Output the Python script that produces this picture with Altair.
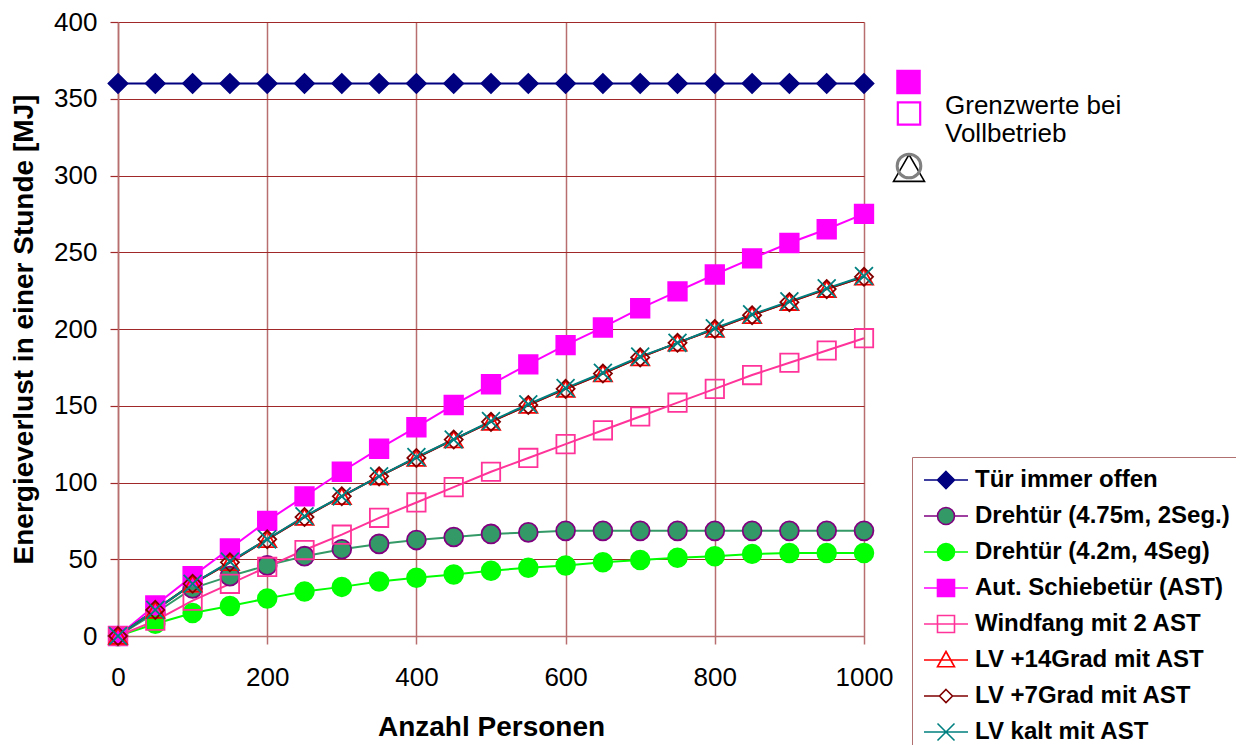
import altair as alt
import pandas as pd

# ---------------- data ----------------
persons = [0, 50, 100, 150, 200, 250, 300, 350, 400, 450, 500,
           550, 600, 650, 700, 750, 800, 850, 900, 950, 1000]

tuer_offen = [360, 360, 360, 360, 360, 360, 360, 360, 360, 360, 360,
              360, 360, 360, 360, 360, 360, 360, 360, 360, 360]
drehtuer_475 = [0, 15, 31, 39, 46, 52, 56.5, 60, 62.5, 64.5, 66.5,
                67.5, 68.5, 68.5, 68.5, 68.5, 68.5, 68.5, 68.5, 68.5, 68.5]
drehtuer_42 = [0, 8, 15, 19.5, 24.5, 29, 32, 35.5, 38, 40, 42.5,
               44.5, 46, 48, 49.5, 51, 52, 53.5, 54, 54, 54]
schiebetuer = [0, 20, 39, 57, 75, 91, 107, 122, 136, 150.5, 164,
               177, 189.5, 201, 213.5, 224.5, 235.5, 246, 256, 265, 275]
windfang = [0, 10, 23, 34, 45, 56, 66, 77, 87, 97, 107,
            116, 125, 134, 143, 152, 161, 170, 178, 186, 194]
lv_14 = [0, 17, 34, 48, 63, 77.5, 91, 104, 116, 128, 139.5,
         150.5, 161, 171, 181.5, 191, 200, 209, 217.5, 226, 234]
lv_7 = [0, 17, 34, 48, 63, 77.5, 91, 104, 116, 128, 139.5,
        150.5, 161, 171, 181.5, 191, 200, 209, 217.5, 226, 234]
lv_kalt = [0, 17, 34, 48.5, 63, 78, 91, 104, 116.5, 128, 140,
           151, 161.5, 171.5, 182, 191, 200.5, 209.5, 218, 226.5, 234.5]

series_names = [
    "Tür immer offen",
    "Drehtür (4.75m, 2Seg.)",
    "Drehtür (4.2m, 4Seg)",
    "Aut. Schiebetür (AST)",
    "Windfang mit 2 AST",
    "LV +14Grad mit AST",
    "LV +7Grad mit AST",
    "LV kalt mit AST",
]
series_values = [tuer_offen, drehtuer_475, drehtuer_42, schiebetuer,
                 windfang, lv_14, lv_7, lv_kalt]

x_ticks = [0, 200, 400, 600, 800, 1000]
y_ticks = [0, 50, 100, 150, 200, 250, 300, 350, 400]

annot_text = ["Grenzwerte bei", "Vollbetrieb"]

# ---------------- styles ----------------
line_colors = ["#000080", "#339966", "#00ff00", "#ff00ff",
               "#ff3399", "#ff0000", "#800000", "#008080"]
point_fill = ["#000080", "#339966", "#00ff00", "#ff00ff",
              "transparent", "transparent", "transparent", "transparent"]
point_stroke = ["#000080", "#800080", "#00ff00", "#ff00ff",
                "#ff3399", "#ff0000", "#800000", "#008080"]
X_PATH = "M-1,-1L1,1M-1,1L1,-1"
point_shapes = ["diamond", "circle", "circle", "square",
                "square", "triangle-up", "diamond", X_PATH]
point_sizes = [361, 320, 360, 310, 330, 420, 190, 380]

# legend symbols: line + marker (scaled by sqrt(400)/2 = 10)
m = 0.85
L = 2.2
def seg_line(half):
    return f"M{-L},0L{-half},0M{half},0L{L},0"
full_line = f"M{-L},0L{L},0"
circle_p = f"M{m},0A{m},{m} 0 1,1 {-m},0A{m},{m} 0 1,1 {m},0Z"
square_p = f"M{-m},{-m}L{m},{-m}L{m},{m}L{-m},{m}Z"
diamond_p = f"M0,{-m}L{m},0L0,{m}L{-m},0Z"
diamond_s = "M0,-0.65L0.65,0L0,0.65L-0.65,0Z"
tri_p = f"M0,{-m}L{m},{m*0.8}L{-m},{m*0.8}Z"
x_p = f"M{-m},{-m}L{m},{m}M{-m},{m}L{m},{-m}"
legend_shapes = [
    seg_line(m) + diamond_p,
    seg_line(m) + circle_p,
    seg_line(m) + circle_p,
    seg_line(m) + square_p,
    full_line + square_p,
    full_line + tri_p,
    seg_line(0.65) + diamond_s,
    full_line + x_p,
]

rows = []
for name, vals in zip(series_names, series_values):
    for p, v in zip(persons, vals):
        rows.append({"Personen": p, "MJ": v, "Serie": name})
df = pd.DataFrame(rows)

FONT = "Liberation Sans"
HGRID = "#a02828"
VGRID = "#b86e6e"

x_axis = alt.Axis(values=x_ticks, format="d", grid=True, gridColor=VGRID, gridWidth=1.5,
                  domainColor=VGRID, domainWidth=1.5, tickColor=VGRID, tickSize=8, tickWidth=1.5,
                  labelFont=FONT, labelFontSize=26, labelColor="black", labelPadding=20,
                  labelFlush=False,
                  title="Anzahl Personen", titleFont=FONT, titleFontSize=28,
                  titleFontWeight="bold", titleColor="black", titleY=99,
                  titleBaseline="alphabetic")
y_axis = alt.Axis(values=y_ticks, format="d", grid=True, gridColor=HGRID, gridWidth=1.2,
                  domainColor=VGRID, domainWidth=1.5, tickColor=HGRID, tickSize=8, tickWidth=1.2,
                  labelFont=FONT, labelFontSize=26, labelColor="black", labelPadding=13,
                  labelFlush=False,
                  title="Energieverlust in einer Stunde [MJ]", titleFont=FONT, titleFontSize=28,
                  titleFontWeight="bold", titleColor="black", titleAngle=270,
                  titleX=-86, titleY=307, titleBaseline="alphabetic", titleAlign="center")

xs = alt.Scale(domain=[0, 1000], nice=False)
ys = alt.Scale(domain=[0, 400], nice=False)

lines = alt.Chart(df).mark_line(strokeWidth=2).encode(
    x=alt.X("Personen:Q", scale=xs, axis=x_axis),
    y=alt.Y("MJ:Q", scale=ys, axis=y_axis),
    color=alt.Color("Serie:N", scale=alt.Scale(domain=series_names, range=line_colors), legend=None),
)

points = alt.Chart(df).mark_point(filled=True, strokeWidth=1.8, opacity=1).encode(
    x=alt.X("Personen:Q", scale=xs),
    y=alt.Y("MJ:Q", scale=ys),
    shape=alt.Shape("Serie:N", scale=alt.Scale(domain=series_names, range=point_shapes), legend=None),
    fill=alt.Fill("Serie:N", scale=alt.Scale(domain=series_names, range=point_fill), legend=None),
    stroke=alt.Stroke("Serie:N", scale=alt.Scale(domain=series_names, range=point_stroke), legend=None),
    size=alt.Size("Serie:N", scale=alt.Scale(domain=series_names, range=point_sizes), legend=None),
)

leg = alt.Legend(orient="none", legendX=794, legendY=435, title=None,
                 labelFont=FONT, labelFontSize=24, labelFontWeight="bold", labelColor="black",
                 labelLimit=400, symbolSize=400, symbolStrokeWidth=1.6, symbolOpacity=1,
                 symbolOffset=11, labelOffset=17, rowPadding=12,
                 strokeColor="#b07070", fillColor="white", padding=11)

legend_layer = alt.Chart(pd.DataFrame({"Serie": series_names})).mark_point(
    filled=True, strokeWidth=1.6, opacity=1).encode(
    shape=alt.Shape("Serie:N", scale=alt.Scale(domain=series_names, range=legend_shapes), legend=leg),
    fill=alt.Fill("Serie:N", scale=alt.Scale(domain=series_names, range=point_fill), legend=leg),
    stroke=alt.Stroke("Serie:N", scale=alt.Scale(domain=series_names, range=point_stroke), legend=leg),
).transform_filter("false")

one = pd.DataFrame({"k": [0]})
ann_sq_filled = alt.Chart(one).mark_point(shape="square", filled=True, size=600, opacity=1,
                                          color="#ff00ff").encode(
    x=alt.value(790.5), y=alt.value(60))
ann_sq_open = alt.Chart(one).mark_point(shape="square", filled=False, size=500, opacity=1,
                                        stroke="#ff00ff", strokeWidth=2.2).encode(
    x=alt.value(791), y=alt.value(91.5))
ann_text = alt.Chart(one).mark_text(align="left", baseline="alphabetic", font=FONT,
                                    fontSize=26, color="black", lineHeight=28).encode(
    x=alt.value(827), y=alt.value(91.5), text=alt.value(annot_text))
ann_tri = alt.Chart(one).mark_point(shape="triangle-up", filled=False, size=960, opacity=1,
                                    stroke="black", strokeWidth=1.6).encode(
    x=alt.value(791), y=alt.value(146))
ann_circ = alt.Chart(one).mark_point(shape="circle", filled=False, size=560, opacity=1,
                                     stroke="#808080", strokeWidth=3).encode(
    x=alt.value(791), y=alt.value(144))

chart = alt.layer(
    lines, points, legend_layer, ann_sq_filled, ann_sq_open, ann_text, ann_tri, ann_circ
).resolve_scale(
    shape="independent", fill="independent", stroke="independent"
).properties(
    width=746, height=614,
    padding={"left": 110, "top": 14, "right": 372, "bottom": 112},
    autosize=alt.AutoSizeParams(type="none"),
    background="white",
).configure_view(strokeWidth=0)

chart.save("out.html", embed_options={"renderer": "svg", "actions": False})
